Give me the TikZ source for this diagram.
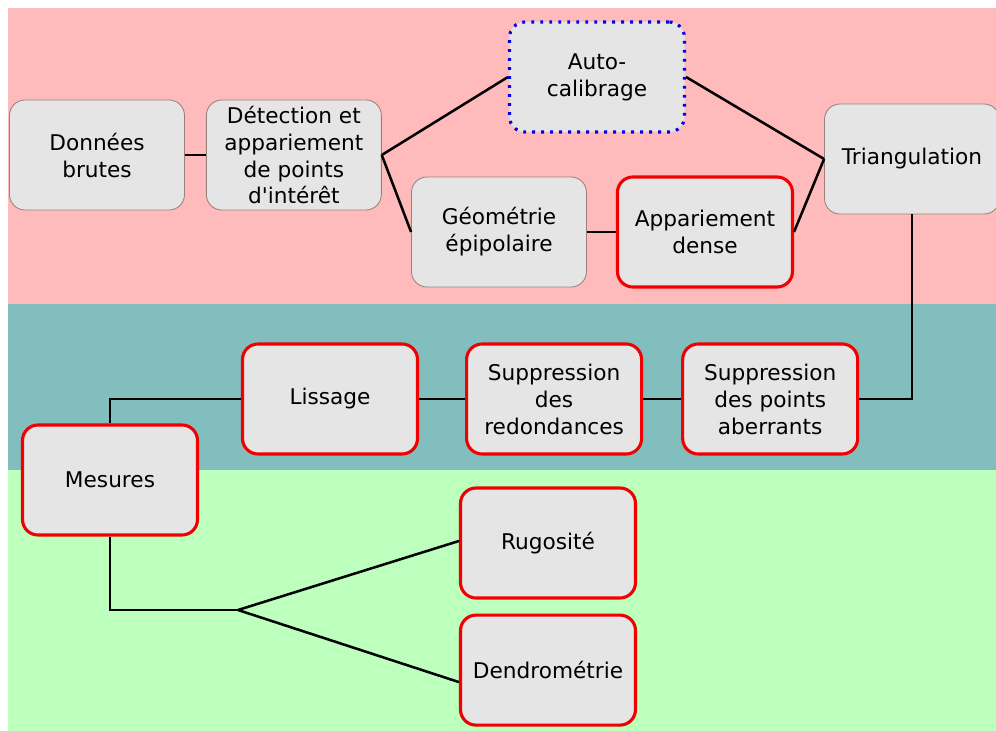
\documentclass[tikz,border=0pt]{standalone}
\usepackage{fontspec}
\setmainfont{DejaVu Sans}
\usetikzlibrary{positioning}
\definecolor{bandpink}{HTML}{FFBBBB}
\definecolor{bandteal}{HTML}{82BEBE}
\definecolor{bandgreen}{HTML}{BDFFBD}
\definecolor{boxfill}{HTML}{E5E5E5}
\definecolor{boxline}{HTML}{9A7F7F}
\definecolor{boxred}{HTML}{F00000}
\definecolor{boxblue}{HTML}{0000F0}

\begin{document}
\begin{tikzpicture}
       \tikzset{process/.style={rectangle, minimum width=4.375cm, minimum height=2.75cm,
                rounded corners=11pt, draw=boxline, fill=boxfill, line width=0.6pt,
                align=center, inner ysep=1pt, font=\fontsize{15.4}{19.2}\selectfont}}

       \tikzset{newprocess/.style={process, draw=boxred, line width=2.2pt}}

       \tikzset{autoprocess/.style={process, draw=boxblue, line width=2.2pt,
                dash pattern=on 2pt off 4.4pt}}

       \tikzset{link/.style={line width=1.8pt}}

        \useasboundingbox (0,0) rectangle (24.9,-18.275);
        \fill[bandpink] (0.2,-0.2) rectangle (24.9,-7.6);
        \fill[bandteal] (0.2,-7.6) rectangle (24.9,-11.75);
        \fill[bandgreen] (0.2,-11.75) rectangle (24.9,-18.275);

        \node[process] (don) at (2.425,-3.875) {Données\\brutes};
        \node[process, right=0.525cm of don] (det) {Détection et\\appariement\\de points\\d\textquotesingle intérêt};
        \node[autoprocess] (auto) at (14.925,-1.925) {Auto-\\calibrage};
        \node[process] (geo) at (12.475,-5.8) {Géométrie\\épipolaire};
        \node[newprocess, right=0.725cm of geo] (app) {Appariement\\dense};
        \node[process] (tri) at (22.8,-3.975) {Triangulation};
        \node[newprocess] (lis) at (8.25,-9.975) {Lissage};
        \node[newprocess, right=1.15cm of lis] (red) {Suppression\\des\\redondances};
        \node[newprocess, right=0.95cm of red] (abe) {Suppression\\des points\\aberrants};
        \node[newprocess] (mes) at (2.75,-12) {Mesures};
        \node[newprocess] (rug) at (13.7,-13.575) {Rugosité};
        \node[newprocess, below=0.35cm of rug] (den) {Dendrométrie};
        \coordinate (fourche) at (5.95,-15.25);

        \draw[link] (don) -- (det);
        \draw[link] (det.east) -- (auto.west);
        \draw[link] (det.east) -- (geo.west);
        \draw[link] (geo) -- (app);
        \draw[link] (auto.east) -- (tri.west);
        \draw[link] (app.east) -- (tri.west);
        \draw[link] (tri.south) |- (abe.east);
        \draw[link] (abe) -- (red);
        \draw[link] (red) -- (lis);
        \draw[link] (lis.west) -| (mes.north);
        \draw[link] (mes.south) |- (fourche);
        \draw[link] (fourche) -- ([yshift=0.05cm]rug.west);
        \draw[link] (fourche) -- ([yshift=-0.3cm]den.west);

   \end{tikzpicture}
\end{document}
